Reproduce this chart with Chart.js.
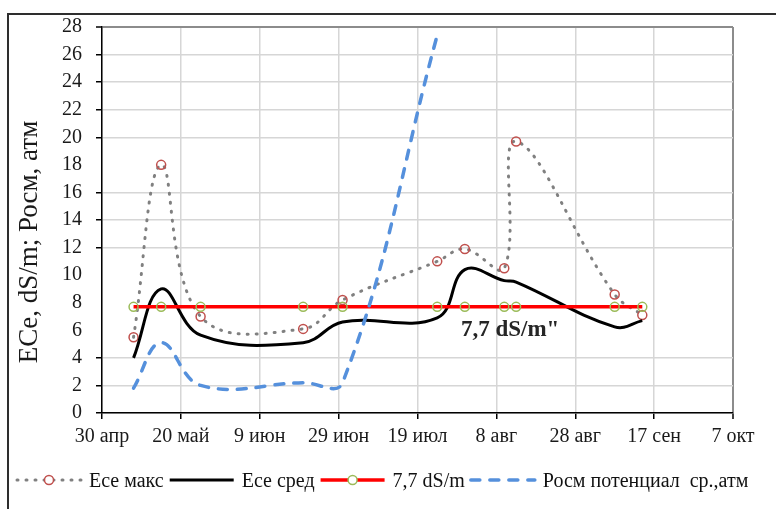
<!DOCTYPE html>
<html>
<head>
<meta charset="utf-8">
<script src="https://cdn.jsdelivr.net/npm/chart.js@4.4.1/dist/chart.umd.min.js"></script>
<style>
  html, body { margin: 0; padding: 0; background: #fff; }
  #wrap { width: 776px; height: 509px; position: relative; }
  canvas { display: block; }
</style>
</head>
<body>
<div id="wrap"><canvas id="c" width="776" height="509" style="width:776px;height:509px"></canvas></div>
<script>
// Sampling dates (DD.MM) of the season, counted from 30 April
const sampleDates = ['08.05', '15.05', '25.05', '20.06', '30.06', '24.07', '31.07', '10.08', '13.08', '07.09', '14.09'];
// Soil-paste salinity, dS/m
const eceMax   = [5.5, 18.0, 7.0, 6.1, 8.2, 11.0, 11.9, 10.5, 19.7, 8.6, 7.1];
const eceMean  = [4.0, 9.0, 5.65, 5.1, 6.6, 6.9, 10.4, 9.6, 9.5, 6.25, 6.7];
const eceLimit = [7.7, 7.7, 7.7, 7.7, 7.7, 7.7, 7.7, 7.7, 7.7, 7.7, 7.7];
// Mean osmotic potential, atm (measured until late July)
const posmDates = ['08.05', '15.05', '25.05', '20.06', '30.06', '24.07'];
const posmMean  = [1.8, 5.1, 2.0, 2.2, 2.2, 27.4];
// Axis tick labels, one every 20 days
const xTickLabels = ['30 апр', '20 май', '9 июн', '29 июн', '19 июл', '8 авг', '28 авг', '17 сен', '7 окт'];
const seriesNames = ['Есе макс', 'Есе сред', '7,7 dS/m', 'Росм потенциал  ср.,атм'];
const yTitle = 'ECe, dS/m; Росм, атм';
const limitNote = '7,7 dS/m"';
const limitNoteAt = { day: 103.5, value: 6.0 };

function dayOfSeason(s) {
  const [d, m] = s.split('.').map(Number);
  return (Date.UTC(2001, m - 1, d) - Date.UTC(2001, 3, 30)) / 86400000;
}
const toPoints = (dates, vals) => dates.map((d, i) => ({ x: dayOfSeason(d), y: vals[i] }));

const SERIF = '"Liberation Serif", "Times New Roman", serif';
Chart.defaults.font.family = SERIF;
Chart.defaults.color = '#1a1a1a';

const hiddenRows = [6, 8, 10, 18];
const gridGray = '#d6d6d6';
const frameGray = '#8c8c8c';

// Outer frame, rotated axis title, note on the limit line and the legend row
const decorations = {
  id: 'decorations',
  afterDraw(chart) {
    const ctx = chart.ctx;
    const area = chart.chartArea;
    ctx.save();
    // frame
    ctx.strokeStyle = '#2e2e2e';
    ctx.lineWidth = 2;
    ctx.beginPath();
    ctx.moveTo(8, chart.height + 2);
    ctx.lineTo(8, 14);
    ctx.lineTo(chart.width + 2, 14);
    ctx.stroke();

    // y axis title
    ctx.save();
    ctx.translate(30, (area.top + area.bottom) / 2 + 22);
    ctx.rotate(-Math.PI / 2);
    ctx.font = '27px ' + SERIF;
    ctx.fillStyle = '#1a1a1a';
    ctx.textAlign = 'center';
    ctx.textBaseline = 'middle';
    ctx.fillText(yTitle, 0, 0);
    ctx.restore();

    // note under the limit line
    const nx = chart.scales.x.getPixelForValue(limitNoteAt.day);
    const ny = chart.scales.y.getPixelForValue(limitNoteAt.value);
    ctx.font = 'bold 23px ' + SERIF;
    ctx.fillStyle = '#262626';
    ctx.textAlign = 'center';
    ctx.textBaseline = 'middle';
    ctx.fillText(limitNote, nx, ny);

    // legend row
    const ly = 480;
    let lx = 17;
    const sample = 64;
    chart.data.datasets.forEach(ds => {
      ctx.save();
      ctx.strokeStyle = ds.borderColor;
      ctx.lineWidth = ds.borderWidth;
      ctx.setLineDash(ds.borderDash || []);
      ctx.lineCap = ds.borderCapStyle || 'butt';
      ctx.beginPath();
      ctx.moveTo(lx, ly);
      ctx.lineTo(lx + sample, ly);
      ctx.stroke();
      ctx.restore();
      if (ds.pointRadius > 0) {
        ctx.save();
        ctx.strokeStyle = ds.pointBorderColor;
        ctx.lineWidth = ds.pointBorderWidth;
        ctx.fillStyle = '#fff';
        ctx.beginPath();
        ctx.arc(lx + sample / 2, ly, ds.pointRadius, 0, Math.PI * 2);
        ctx.fill();
        ctx.stroke();
        ctx.restore();
      }
      lx += sample + 8;
      ctx.font = '20px ' + SERIF;
      ctx.fillStyle = '#111';
      ctx.textAlign = 'left';
      ctx.textBaseline = 'middle';
      ctx.fillText(ds.label, lx, ly + 2);
      lx += ctx.measureText(ds.label).width + 6;
    });
    ctx.restore();
  }
};

new Chart(document.getElementById('c'), {
  type: 'line',
  data: {
    datasets: [
      {
        label: seriesNames[0],
        data: toPoints(sampleDates, eceMax),
        borderColor: '#808080',
        borderWidth: 3,
        borderDash: [1, 8],
        borderCapStyle: 'round',
        tension: 0.4,
        pointRadius: 4.5,
        pointBorderWidth: 1.5,
        pointBorderColor: '#c0504d',
        pointBackgroundColor: 'rgba(255,255,255,0)',
        order: 4
      },
      {
        label: seriesNames[1],
        data: toPoints(sampleDates, eceMean),
        borderColor: '#000000',
        borderWidth: 3,
        tension: 0.4,
        pointRadius: 0,
        order: 3
      },
      {
        label: seriesNames[2],
        data: toPoints(sampleDates, eceLimit),
        borderColor: '#ff0000',
        borderWidth: 3.5,
        tension: 0,
        pointRadius: 4.5,
        pointBorderWidth: 1.5,
        pointBorderColor: '#9bbb59',
        pointBackgroundColor: 'rgba(255,255,255,0)',
        order: 2
      },
      {
        label: seriesNames[3],
        data: toPoints(posmDates, posmMean),
        borderColor: '#5590dc',
        borderWidth: 3.5,
        borderDash: [9, 10],
        borderCapStyle: 'round',
        tension: 0.4,
        pointRadius: 0,
        order: 1
      }
    ]
  },
  options: {
    responsive: false,
    maintainAspectRatio: false,
    animation: false,
    devicePixelRatio: 1,
    layout: { padding: { left: 0, top: 27, right: 43, bottom: 56 } },
    plugins: { legend: { display: false }, tooltip: { enabled: false }, title: { display: false } },
    elements: { line: { fill: false } },
    scales: {
      x: {
        type: 'linear',
        min: 0,
        max: 160,
        afterFit: s => { s.height = 40; },
        ticks: {
          stepSize: 20,
          autoSkip: false,
          maxRotation: 0,
          padding: 6,
          font: { size: 20 },
          color: '#1a1a1a',
          callback: v => xTickLabels[Math.round(v / 20)]
        },
        grid: {
          color: c => (c.tick && c.tick.value === 160 ? frameGray : gridGray),
          lineWidth: c => (c.tick && c.tick.value === 160 ? 2 : 1.5),
          tickColor: '#000',
          tickLength: 6,
          tickWidth: 1.5
        },
        border: { color: '#000', width: 1.5 }
      },
      y: {
        min: 0,
        max: 28,
        afterFit: s => { s.width = 102; },
        ticks: {
          stepSize: 2,
          padding: 14,
          font: { size: 20 },
          color: '#1a1a1a'
        },
        grid: {
          color: c => {
            const v = c.tick ? c.tick.value : null;
            if (hiddenRows.includes(v)) return 'rgba(0,0,0,0)';
            return v === 28 ? frameGray : gridGray;
          },
          lineWidth: c => (c.tick && c.tick.value === 28 ? 2 : 1.5),
          tickColor: c => (c.tick && hiddenRows.includes(c.tick.value) ? 'rgba(0,0,0,0)' : '#000'),
          tickLength: 6,
          tickWidth: 1.5
        },
        border: { color: '#000', width: 1.5 }
      }
    }
  },
  plugins: [decorations]
});
</script>
</body>
</html>
